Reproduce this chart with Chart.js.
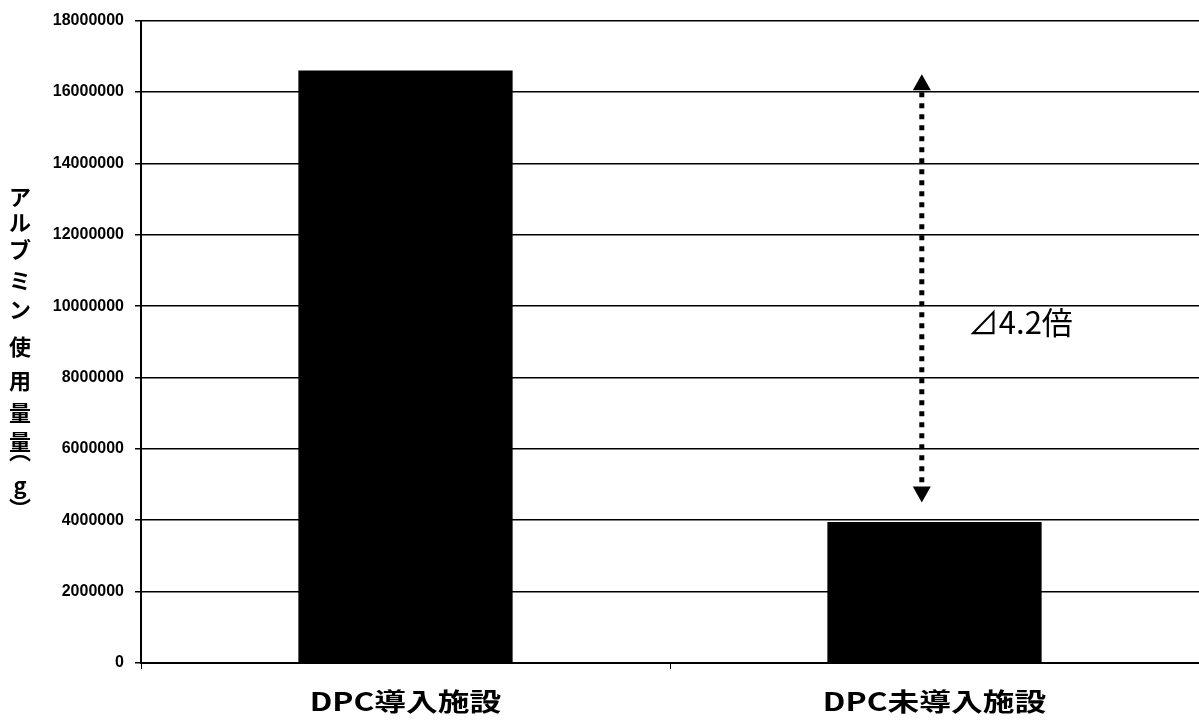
<!DOCTYPE html>
<html>
<head>
<meta charset="utf-8">
<script src="https://cdn.jsdelivr.net/npm/chart.js@4/dist/chart.umd.min.js"></script>
<style>
  html, body { margin: 0; padding: 0; background: #fff; }
  #wrap { width: 1199px; height: 725px; }
</style>
</head>
<body>
<div id="wrap"><canvas id="c" width="1199" height="725"></canvas></div>
<script>
// Facility groups and albumin usage (g)
const categories = ['DPC導入施設', 'DPC未導入施設'];
const albuminUsage = [16600000, 3950000];
const yTicks = [0, 2000000, 4000000, 6000000, 8000000, 10000000, 12000000, 14000000, 16000000, 18000000];

// Difference arrow between the two groups and its label
const arrowFrom = 16500000;
const arrowTo = 4500000;
const ratioLabel = '⊿4.2倍';

// Vertical axis title, written top to bottom with vertical-form brackets
const yTitleChars = ['ア', 'ル', 'ブ', 'ミ', 'ン', '使', '用', '量', '量', '︵', 'g', '︶'];

const annotations = {
  id: 'annotations',
  afterDatasetsDraw(chart) {
    const { ctx, scales: { x, y } } = chart;
    const catW = x.getPixelForValue(1) - x.getPixelForValue(0);
    const ax = x.getPixelForValue(1) - catW * 0.024;
    const yTop = y.getPixelForValue(arrowFrom);
    const yBot = y.getPixelForValue(arrowTo);
    const head = 16, hw = 9;

    ctx.save();
    // dotted shaft
    ctx.strokeStyle = '#000';
    ctx.lineWidth = 5;
    ctx.setLineDash([5, 6]);
    ctx.beginPath();
    ctx.moveTo(ax, yTop + head + 2);
    ctx.lineTo(ax, yBot - head - 2);
    ctx.stroke();
    ctx.setLineDash([]);
    // heads
    ctx.fillStyle = '#000';
    ctx.beginPath();
    ctx.moveTo(ax, yTop);
    ctx.lineTo(ax - hw, yTop + head);
    ctx.lineTo(ax + hw, yTop + head);
    ctx.closePath();
    ctx.fill();
    ctx.beginPath();
    ctx.moveTo(ax, yBot);
    ctx.lineTo(ax - hw, yBot - head);
    ctx.lineTo(ax + hw, yBot - head);
    ctx.closePath();
    ctx.fill();

    // ratio label
    ctx.font = '31px "Noto Sans CJK JP"';
    ctx.textAlign = 'left';
    ctx.textBaseline = 'middle';
    ctx.fillText(ratioLabel, ax + 46, y.getPixelForValue(9550000));

    // stacked vertical axis title (line positions of the vertical text run)
    const titleLines = [197, 223, 250, 281, 310, 347, 381, 413, 442, 451, 486, 509];
    ctx.font = 'bold 22px "Noto Sans CJK JP"';
    ctx.textAlign = 'center';
    yTitleChars.forEach((ch, i) => ctx.fillText(ch, 20, titleLines[i]));

    // category labels, set slightly wide
    ctx.font = 'bold 25px "Noto Sans CJK JP"';
    ctx.textAlign = 'center';
    x.getLabels().forEach((lab, i) => {
      ctx.save();
      ctx.translate(x.getPixelForValue(i), 701);
      ctx.scale(1.27, 1);
      ctx.fillText(lab, 0, 0);
      ctx.restore();
    });
    ctx.restore();
  }
};

new Chart(document.getElementById('c'), {
  type: 'bar',
  data: {
    labels: categories,
    datasets: [{
      data: albuminUsage,
      backgroundColor: '#000',
      borderWidth: 0,
      barPercentage: 0.405,
      categoryPercentage: 1
    }]
  },
  options: {
    responsive: false,
    devicePixelRatio: 1,
    animation: false,
    layout: { padding: { top: 19, right: 0, left: 0, bottom: 0 } },
    plugins: { legend: { display: false }, tooltip: { enabled: false } },
    scales: {
      x: {
        grid: { offset: true, drawOnChartArea: false, color: '#000', lineWidth: 1, tickLength: 6 },
        border: { color: '#000', width: 2 },
        ticks: { display: false },
        afterFit(scale) { scale.height = 62; }
      },
      y: {
        min: 0,
        max: 18000000,
        afterBuildTicks(scale) { scale.ticks = yTicks.map(v => ({ value: v })); },
        grid: { color: '#000', lineWidth: 1.5, tickLength: 6 },
        border: { color: '#000', width: 2 },
        ticks: {
          color: '#000',
          padding: 11,
          font: { family: '"Liberation Sans"', size: 16, weight: 'bold' },
          callback: v => String(v)
        },
        afterFit(scale) { scale.width = 141; }
      }
    }
  },
  plugins: [annotations]
});
</script>
</body>
</html>
